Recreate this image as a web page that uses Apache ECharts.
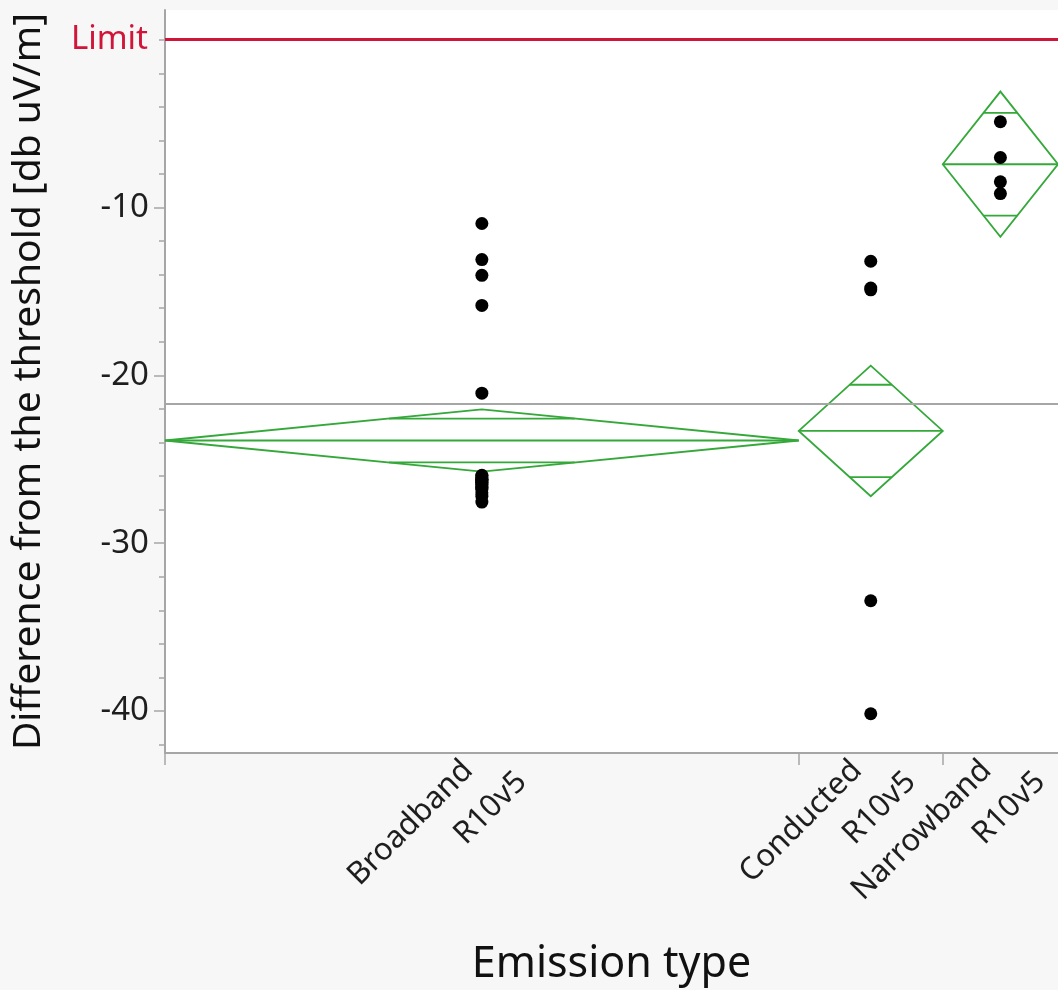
<!DOCTYPE html>
<html>
<head>
<meta charset="utf-8">
<title>Emission type oneway</title>
<script src="https://cdn.jsdelivr.net/npm/echarts@6.0.0/dist/echarts.min.js"></script>
<style>
  html, body { margin: 0; padding: 0; background: #f7f7f7; }
  #chart { width: 1058px; height: 990px; }
</style>
</head>
<body>
<div id="chart"></div>
<script>
// groups (x axis width is proportional to group size, like JMP)
const groupNames = ['Broadband', 'Conducted', 'Narrowband']
const groupSuffix = 'R10v5'
const groupCounts = [22, 5, 4]

const broadbandValues = [
  -10.95, -13.1, -14.04, -15.83, -21.06,
  -25.95, -26.0, -26.1, -26.2, -26.2, -26.3, -26.3, -26.4, -26.4,
  -26.5, -26.6, -26.7, -26.7, -26.8, -27.0, -27.2, -27.55
]
const conductedValues = [-13.2, -14.8, -14.9, -33.43, -40.16]
const narrowbandValues = [-4.89, -7.02, -8.47, -9.17]

// means diamonds: group mean and 95% CI half-height
const groupMeans = [-23.88, -23.31, -7.42]
const groupCiHalf = [1.85, 3.89, 4.33]

const grandMean = -21.69
const limitValue = 0

// axis ticks
const yMajorTicks = [-40, -30, -20, -10]
const yMinorTicks = [-42, -40, -38, -36, -34, -32, -30, -28, -26, -24, -22, -20,
  -18, -16, -14, -12, -10, -8, -6, -4, -2, 0]

const GREEN = '#35a83a'
const GRAY = '#a6a6a6'
const TEXT = '#1e1e1e'
const FONT = '"Noto Sans", "Open Sans", sans-serif'

// group boundaries on the x axis
const starts = []
const ends = []
let acc = 0
groupCounts.forEach(n => {
  starts.push(acc)
  acc += n
  ends.push(acc)
})
const total = acc
const centers = starts.map((s, i) => (s + ends[i]) / 2)

const pointData = []
;[broadbandValues, conductedValues, narrowbandValues].forEach((vals, i) => {
  vals.forEach(v => pointData.push([centers[i], v]))
})

const diamondData = groupMeans.map((m, i) => [starts[i], ends[i], m, groupCiHalf[i]])

const chart = echarts.init(document.getElementById('chart'))

chart.setOption({
  animation: false,
  backgroundColor: '#f7f7f7',
  textStyle: { fontFamily: FONT },
  grid: {
    left: 165,
    right: 0,
    top: 10,
    bottom: 237,
    show: true,
    borderWidth: 0,
    backgroundColor: '#ffffff',
    outerBoundsMode: 'none'
  },
  xAxis: [
    {
      type: 'value',
      min: 0,
      max: total,
      splitLine: { show: false },
      axisLine: { show: true, onZero: false, lineStyle: { color: GRAY, width: 2 } },
      axisTick: {
        show: true,
        customValues: starts,
        length: 12,
        lineStyle: { color: GRAY, width: 1.5 }
      },
      axisLabel: {
        customValues: centers,
        rotate: 45,
        margin: -16,
        padding: [67, 0, 0, 0],
        formatter: (v) => {
          let i = 0
          centers.forEach((c, k) => { if (Math.abs(c - v) < Math.abs(centers[i] - v)) i = k })
          return '{a|' + groupNames[i] + '}\n{b|' + groupSuffix + '}'
        },
        rich: {
          a: { fontSize: 31, lineHeight: 46, color: TEXT, fontFamily: FONT, padding: [0, 30, 0, 0] },
          b: { fontSize: 31, lineHeight: 46, color: TEXT, fontFamily: FONT }
        }
      },
      name: 'Emission type',
      nameLocation: 'middle',
      nameGap: 190,
      nameMoveOverlap: false,
      nameTextStyle: { fontSize: 43, color: '#111', fontFamily: FONT }
    },
    {
      // top frame line
      type: 'value',
      position: 'top',
      min: 0,
      max: total,
      splitLine: { show: false },
      axisLine: { show: true, lineStyle: { color: GRAY, width: 1.5 } },
      axisTick: { show: false },
      axisLabel: { show: false }
    }
  ],
  yAxis: [
    {
      type: 'value',
      min: -42.5,
      max: 1.77,
      splitLine: { show: false },
      axisLine: { show: true, onZero: false, lineStyle: { color: GRAY, width: 2 } },
      axisTick: {
        show: true,
        customValues: yMajorTicks,
        length: 11,
        lineStyle: { color: GRAY, width: 1.5 }
      },
      axisLabel: {
        customValues: yMajorTicks,
        margin: 16,
        fontSize: 33,
        color: TEXT,
        fontFamily: FONT
      },
      name: 'Difference from the threshold [db uV/m]',
      nameLocation: 'middle',
      nameGap: 117,
      nameMoveOverlap: false,
      nameTextStyle: { fontSize: 39, color: '#111', fontFamily: FONT }
    },
    {
      // minor ticks every 2 units
      type: 'value',
      position: 'left',
      min: -42.5,
      max: 1.77,
      splitLine: { show: false },
      axisLine: { show: false },
      axisTick: {
        show: true,
        customValues: yMinorTicks,
        length: 6,
        lineStyle: { color: GRAY, width: 1.5 }
      },
      axisLabel: { show: false }
    }
  ],
  series: [
    {
      type: 'custom',
      name: 'means diamonds',
      xAxisIndex: 0,
      yAxisIndex: 0,
      data: diamondData,
      z: 3,
      renderItem: (params, api) => {
        const x0 = api.value(0)
        const x1 = api.value(1)
        const m = api.value(2)
        const h = api.value(3)
        const xc = (x0 + x1) / 2
        const L = api.coord([x0, m])
        const R = api.coord([x1, m])
        const T = api.coord([xc, m + h])
        const B = api.coord([xc, m - h])
        // overlap marks at mean +- h/sqrt(2), spanning the diamond
        const o = h * Math.SQRT1_2
        const frac = 1 - Math.SQRT1_2
        const half = (R[0] - L[0]) / 2 * frac
        const yUp = api.coord([xc, m + o])[1]
        const yDn = api.coord([xc, m - o])[1]
        const style = { stroke: GREEN, lineWidth: 1.8, fill: null }
        return {
          type: 'group',
          children: [
            { type: 'polygon', shape: { points: [L, T, R, B] }, style },
            { type: 'line', shape: { x1: L[0], y1: L[1], x2: R[0], y2: R[1] }, style },
            { type: 'line', shape: { x1: T[0] - half, y1: yUp, x2: T[0] + half, y2: yUp }, style },
            { type: 'line', shape: { x1: T[0] - half, y1: yDn, x2: T[0] + half, y2: yDn }, style }
          ]
        }
      }
    },
    {
      type: 'scatter',
      name: 'points',
      data: pointData,
      symbolSize: 13,
      itemStyle: { color: '#000', opacity: 1 },
      z: 5,
      markLine: {
        silent: true,
        symbol: ['none', 'none'],
        data: [
          {
            yAxis: grandMean,
            lineStyle: { color: GRAY, width: 2, type: 'solid', opacity: 1 },
            label: { show: false }
          },
          {
            yAxis: limitValue,
            lineStyle: { color: '#d0143a', width: 3, type: 'solid', opacity: 1 },
            label: {
              show: true,
              position: 'start',
              distance: 17,
              formatter: 'Limit',
              color: '#d0143a',
              fontSize: 33,
              fontFamily: FONT
            }
          }
        ]
      }
    }
  ]
})
</script>
</body>
</html>
